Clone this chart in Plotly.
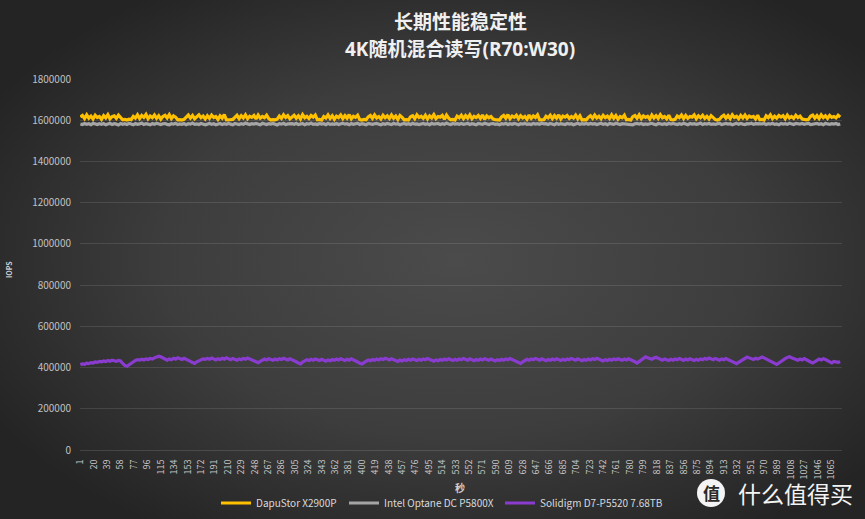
import base64
import plotly.graph_objects as go

# Sample seconds (every 3 s), 1..1078
seconds = list(range(1, 1079, 3))

# IOPS in thousands
dapustor_k = [
1616,1623,1608,1626,1610,1620,1606,1624,1613,1618,1604,1622,1611,1627,1607,1617,1621,1609,1625,1612,
1602,1604,1601,1605,1603,1619,1610,1626,1608,1623,1614,1628,1607,1620,1612,1625,1609,1622,1605,1618,
1624,1611,1627,1608,1621,1615,1602,1603,1601,1604,1617,1625,1610,1623,1607,1619,1626,1612,1620,1606,
1622,1609,1625,1613,1618,1604,1621,1610,1627,1602,1601,1603,1604,1616,1624,1608,1622,1611,1626,1607,
1619,1614,1623,1606,1625,1610,1618,1612,1624,1608,1601,1603,1602,1605,1620,1609,1626,1613,1622,1607,
1617,1624,1610,1621,1606,1627,1612,1619,1608,1623,1615,1625,1602,1604,1601,1618,1611,1626,1609,1622,
1605,1620,1613,1625,1608,1622,1610,1627,1607,1619,1614,1624,1603,1601,1604,1602,1616,1623,1609,1626,
1611,1618,1606,1624,1612,1621,1608,1625,1610,1620,1604,1623,1614,1602,1603,1601,1617,1622,1607,1626,
1613,1619,1609,1624,1606,1621,1611,1627,1608,1618,1615,1623,1605,1625,1610,1602,1604,1601,1620,1612,
1624,1608,1622,1610,1626,1607,1619,1613,1623,1609,1625,1604,1621,1612,1618,1606,1603,1602,1601,1616,
1623,1610,1627,1608,1620,1614,1624,1607,1622,1611,1618,1605,1625,1609,1621,1613,1626,1602,1604,1603,
1619,1612,1624,1608,1622,1610,1626,1606,1620,1615,1623,1609,1618,1611,1625,1607,1621,1601,1603,1602,
1614,1622,1609,1625,1611,1619,1607,1624,1613,1620,1608,1626,1610,1623,1605,1618,1612,1624,1602,1604,
1601,1617,1623,1610,1626,1608,1621,1614,1619,1606,1625,1611,1622,1609,1627,1612,1618,1607,1624,1603,
1602,1604,1620,1613,1625,1608,1623,1610,1618,1615,1626,1607,1621,1612,1624,1609,1619,1606,1622,1611,
1603,1601,1605,1617,1624,1610,1622,1608,1626,1613,1619,1607,1623,1611,1625,1609,1620,1614,1618,1606,
1624,1602,1604,1601,1621,1612,1626,1608,1619,1610,1623,1615,1622,1607,1625,1611,1618,1609,1624,1613,
1620,1606,1603,1602,1604,1619,1625,1610,1622,1608,1626,1612,1621,1609,1623,1614,1618,1611,1624,1616,
]

optane_k = [
1582,1579,1584,1580,1583,1578,1585,1581,1579,1583,1580,1584,1578,1582,1585,1579,1583,1581,1577,1584,
1580,1583,1579,1585,1581,1578,1584,1580,1582,1586,1579,1583,1581,1578,1584,1580,1585,1582,1579,1583,
1584,1580,1578,1583,1581,1585,1579,1582,1580,1584,1578,1583,1581,1586,1580,1582,1579,1584,1581,1578,
1581,1585,1580,1583,1578,1582,1584,1579,1583,1580,1585,1581,1578,1584,1582,1579,1583,1580,1586,1581,
1579,1583,1581,1584,1580,1578,1585,1582,1579,1583,1581,1584,1580,1577,1583,1581,1585,1579,1582,1584,
1583,1580,1585,1579,1582,1584,1578,1583,1581,1586,1580,1582,1579,1584,1581,1583,1578,1585,1580,1582,
1580,1584,1579,1582,1585,1581,1583,1578,1584,1580,1582,1585,1579,1583,1581,1578,1584,1582,1580,1583,
1585,1581,1578,1583,1580,1584,1582,1579,1585,1581,1583,1578,1582,1584,1580,1583,1579,1585,1581,1582,
1579,1582,1584,1580,1583,1578,1585,1581,1582,1584,1579,1583,1580,1586,1582,1579,1584,1581,1583,1580,
1584,1580,1582,1585,1579,1583,1581,1578,1584,1582,1580,1585,1581,1579,1583,1584,1580,1582,1578,1583,
1581,1585,1579,1583,1580,1584,1582,1578,1583,1581,1585,1580,1582,1579,1584,1581,1583,1580,1586,1582,
1583,1579,1584,1581,1578,1585,1580,1583,1582,1579,1584,1581,1583,1578,1582,1585,1580,1583,1581,1584,
1580,1584,1581,1583,1579,1582,1585,1580,1583,1578,1584,1582,1580,1585,1581,1579,1583,1582,1584,1580,
1582,1578,1583,1585,1581,1584,1579,1582,1580,1583,1585,1581,1578,1584,1582,1580,1583,1579,1585,1581,
1584,1581,1579,1583,1580,1585,1582,1578,1584,1581,1583,1580,1582,1586,1579,1583,1581,1584,1580,1582,
1580,1583,1585,1579,1582,1584,1581,1583,1578,1582,1585,1580,1584,1581,1579,1583,1582,1585,1580,1583,
1583,1580,1582,1584,1579,1583,1581,1585,1580,1582,1578,1584,1581,1583,1580,1585,1582,1579,1584,1581,
1581,1584,1580,1583,1585,1579,1582,1581,1584,1580,1583,1578,1585,1582,1580,1583,1581,1584,1579,1582,
]

solidigm_k = [
414,418,416,421,419,424,422,427,425,430,428,432,429,434,431,436,433,430,435,432,
420,410,406,414,422,430,435,438,436,440,437,442,439,444,441,447,450,455,452,446,
440,436,442,438,445,441,447,443,439,445,441,436,430,424,420,428,434,438,442,440,
444,440,446,442,437,443,439,445,441,447,443,438,444,440,436,442,438,444,440,446,
442,438,433,428,424,430,436,441,437,443,439,435,441,437,443,439,445,441,437,443,
439,434,428,422,418,426,432,438,434,440,436,442,438,434,440,436,431,437,433,439,
435,441,437,443,439,434,440,436,442,438,433,427,421,417,424,431,437,433,439,435,
441,437,443,439,445,441,437,443,439,435,430,436,432,438,434,440,436,442,438,434,
440,436,442,438,444,440,436,431,437,433,439,435,441,437,443,439,434,440,436,442,
438,444,440,436,442,438,433,439,435,441,437,443,439,435,441,437,432,438,434,440,
436,442,438,444,440,435,430,425,420,428,434,440,436,442,438,444,440,436,442,438,
433,439,435,441,437,443,439,434,440,436,442,438,444,440,436,442,438,433,439,435,
441,437,443,439,445,441,437,432,438,434,440,436,442,438,443,439,435,441,437,443,
439,434,428,422,430,438,446,452,448,444,440,446,450,445,440,436,442,438,434,440,
436,442,438,444,440,435,441,437,443,439,434,440,436,442,438,444,440,446,442,438,
444,440,436,442,438,444,440,435,430,424,419,426,433,440,446,451,447,443,439,445,
441,446,451,447,442,437,431,425,419,415,422,430,437,443,449,453,448,444,440,436,
441,437,443,439,433,427,422,429,436,441,437,443,439,434,428,423,430,427,425,428,
]

series_names = ["DapuStor X2900P", "Intel Optane DC P5800X", "Solidigm D7-P5520 7.68TB"]
series_colors = ["#FFC000", "#A5A5A5", "#8B3CD0"]
series_values = [dapustor_k, optane_k, solidigm_k]

x_tick_vals = list(range(1, 1066, 19))
y_tick_vals = list(range(0, 1800001, 200000))
n_seconds = 1080

W, H = 865, 519
L, R, T, B = 80, 23, 79, 69
pw, ph = W - L - R, H - T - B

legend_ids = ["legend", "legend2", "legend3"]
legend_x_px = [216, 344, 500]

fig = go.Figure()
for name, color, vals, lid in zip(series_names, series_colors, series_values, legend_ids):
    fig.add_trace(go.Scatter(
        x=seconds, y=[v * 1000 for v in vals], mode="lines", name=name,
        line=dict(color=color, width=3.2), legend=lid,
    ))

svg = f'''<svg xmlns="http://www.w3.org/2000/svg" width="{W}" height="{H}" viewBox="0 0 {W} {H}" preserveAspectRatio="none">
<defs><radialGradient id="g" cx="0.53" cy="0.5" r="0.62">
<stop offset="0" stop-color="#4b4b4b"/><stop offset="0.55" stop-color="#3d3d3d"/><stop offset="1" stop-color="#242424"/>
</radialGradient></defs><rect width="{W}" height="{H}" fill="url(#g)"/></svg>'''
src = "data:image/svg+xml;base64," + base64.b64encode(svg.encode()).decode()

fig.add_layout_image(dict(
    source=src, xref="paper", yref="paper",
    x=-L / pw, y=1 + T / ph, sizex=W / pw, sizey=H / ph,
    xanchor="left", yanchor="top", sizing="stretch", layer="below",
))

font_cjk = "Noto Sans CJK SC, Noto Sans, sans-serif"
font_title = "Open Sans, Noto Sans CJK SC, sans-serif"


def legend_cfg(px):
    return dict(
        orientation="h", xref="container", yref="container",
        x=px / W, xanchor="left", y=1 - 503 / H, yanchor="middle",
        font=dict(size=10, color="#d9d9d9"), bgcolor="rgba(0,0,0,0)",
        itemwidth=30, tracegroupgap=0,
    )


def py(px_y):
    """container pixel y -> paper y"""
    return 1 - (px_y - T) / ph


def pxx(px_x):
    return (px_x - L) / pw


fig.update_layout(
    width=W, height=H,
    margin=dict(l=L, r=R, t=T, b=B, pad=0, autoexpand=False),
    paper_bgcolor="#333333", plot_bgcolor="rgba(0,0,0,0)",
    font=dict(family=font_cjk, color="#c8c8c8", size=10),
    showlegend=True,
    legend=legend_cfg(legend_x_px[0]),
    legend2=legend_cfg(legend_x_px[1]),
    legend3=legend_cfg(legend_x_px[2]),
    xaxis=dict(
        range=[0.5, n_seconds + 0.5], tickmode="array", tickvals=x_tick_vals,
        ticktext=[str(v) for v in x_tick_vals], tickangle=-90, automargin=False,
        tickfont=dict(size=9, color="#c8c8c8"), showgrid=False, zeroline=False,
        showline=True, linecolor="rgba(255,255,255,0.13)", linewidth=1,
        ticks="outside", ticklen=5, tickcolor="rgba(0,0,0,0)",
    ),
    yaxis=dict(
        range=[0, 1800000], tickmode="array", tickvals=y_tick_vals, automargin=False,
        ticktext=[str(v) for v in y_tick_vals], tickfont=dict(size=10, color="#c0c0c0"),
        showgrid=True, gridcolor="rgba(255,255,255,0.11)", gridwidth=1, zeroline=False,
        ticks="outside", ticklen=6, tickcolor="rgba(0,0,0,0)",
    ),
)

# axis titles
fig.add_annotation(text="<b>秒</b>", xref="paper", yref="paper", x=pxx(460), y=py(487),
                   xanchor="center", yanchor="middle", showarrow=False,
                   font=dict(size=10, color="#d0d0d0", family=font_cjk))
fig.add_annotation(text="<b>IOPS</b>", xref="paper", yref="paper", x=pxx(9), y=py(270),
                   xanchor="center", yanchor="middle", showarrow=False, textangle=-90,
                   font=dict(size=7, color="#d0d0d0", family=font_cjk))

# titles
cx = pxx(460)
fig.add_annotation(text="<b>长期性能稳定性</b>", xref="paper", yref="paper",
                   x=cx, y=py(22), xanchor="center", yanchor="middle",
                   showarrow=False, font=dict(size=19, color="#f0f0f0", family=font_title))
fig.add_annotation(text="<b>4K随机混合读写(R70:W30)</b>", xref="paper", yref="paper",
                   x=cx, y=py(49), xanchor="center", yanchor="middle",
                   showarrow=False, font=dict(size=19, color="#f0f0f0", family=font_title))

# watermark
fig.add_shape(type="circle", xref="paper", yref="paper",
              x0=pxx(697), x1=pxx(725), y0=py(507), y1=py(479),
              fillcolor="#f4f4f4", line=dict(width=0))
fig.add_annotation(text="<b>值</b>", xref="paper", yref="paper",
                   x=pxx(711), y=py(493), xanchor="center", yanchor="middle",
                   showarrow=False, font=dict(size=17, color="#2a2a2a", family=font_cjk))
fig.add_annotation(text="什么值得买", xref="paper", yref="paper",
                   x=pxx(795), y=py(493), xanchor="center", yanchor="middle",
                   showarrow=False, font=dict(size=23, color="#f4f4f4", family=font_cjk))

fig.write_html("out.html")
